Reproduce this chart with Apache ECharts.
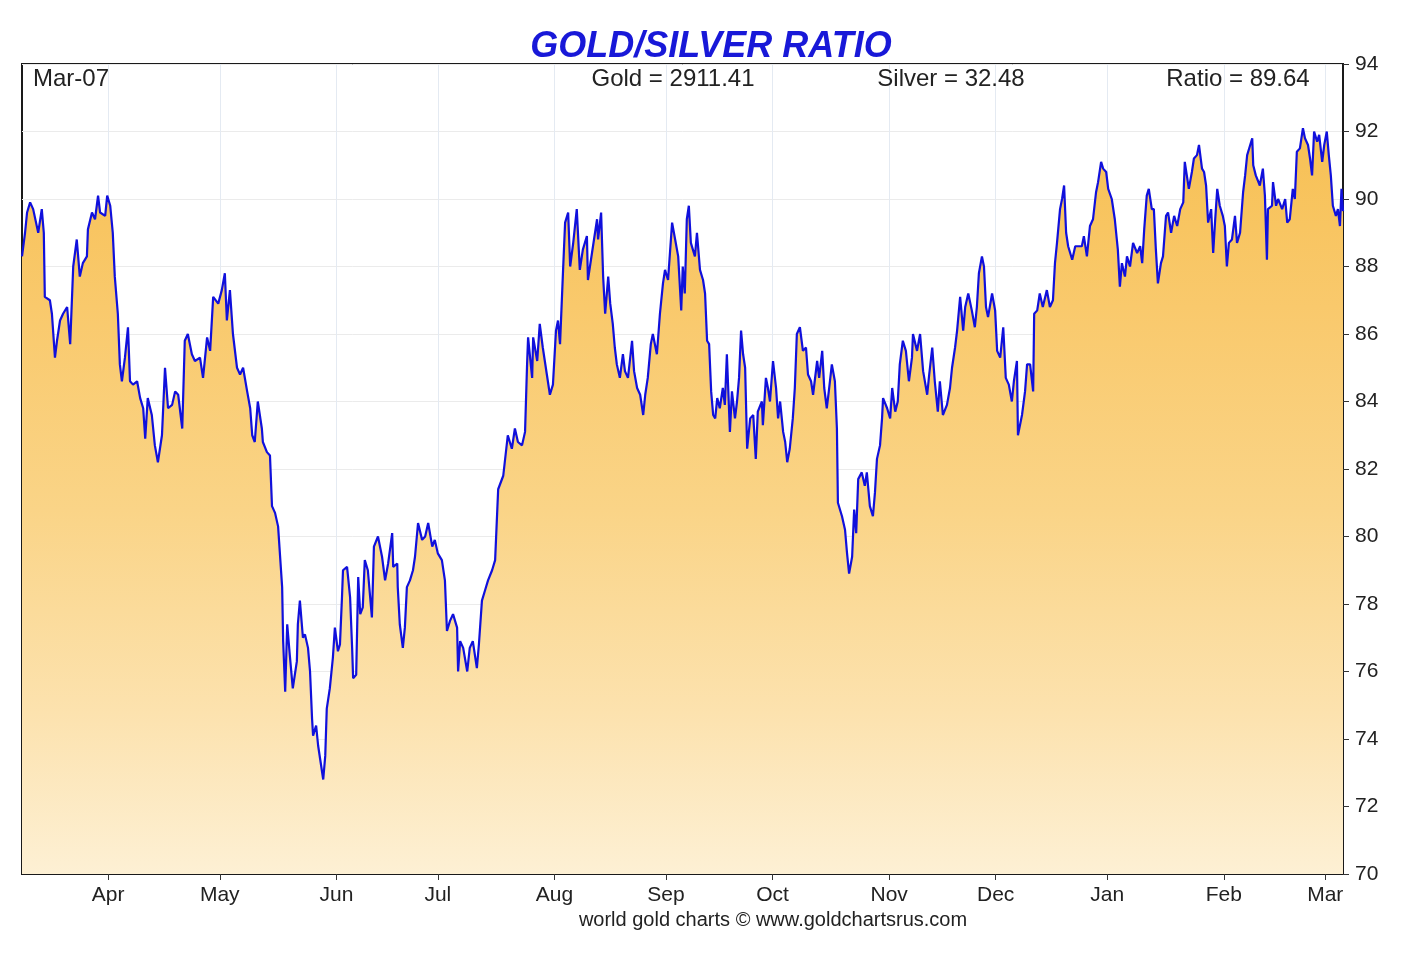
<!DOCTYPE html>
<html><head><meta charset="utf-8">
<script src="https://cdn.jsdelivr.net/npm/echarts@6/dist/echarts.min.js"></script>
<style>html,body{margin:0;padding:0;background:#fff}#chart{width:1407px;height:953px}</style>
</head><body><div id="chart"></div>
<script>
const chartTitle = 'GOLD/SILVER RATIO';
const dateLabel = 'Mar-07';
const goldText = 'Gold = 2911.41';
const silverText = 'Silver = 32.48';
const ratioText = 'Ratio = 89.64';
const footerText = 'world gold charts \u00a9 www.goldchartsrus.com';

// x axis: trading (week) days since Mar-07-2024
const monthLabels = ['Apr','May','Jun','Jul','Aug','Sep','Oct','Nov','Dec','Jan','Feb','Mar'];
const monthStartDay = [17,39,62,82,105,127,148,171,192,214,237,257];
const dayMax = 260.5;
const yMin = 70, yMax = 94, yStep = 2;

// [trading day, gold/silver ratio]
const ratioSeries = [[0,88.3],[0.6,89.0],[1.0,89.6],[1.6,89.9],[2.2,89.7],[3.2,89.0],[3.9,89.7],[4.3,89.0],[4.5,87.1],[5.5,87.0],[5.9,86.6],[6.5,85.3],[6.9,85.8],[7.5,86.4],[8.1,86.6],[8.9,86.8],[9.5,85.7],[10.1,88.0],[10.8,88.8],[11.4,87.7],[12.0,88.1],[12.8,88.3],[13.0,89.1],[13.8,89.6],[14.4,89.4],[15.0,90.1],[15.4,89.6],[16.4,89.5],[16.8,90.1],[17.4,89.8],[17.9,89.0],[18.3,87.7],[18.9,86.6],[19.3,85.1],[19.7,84.6],[20.3,85.3],[20.9,86.2],[21.3,84.6],[21.9,84.5],[22.7,84.6],[23.3,84.1],[23.9,83.8],[24.3,82.9],[24.8,84.1],[25.6,83.6],[26.2,82.7],[26.8,82.2],[27.6,83.0],[28.2,85.0],[28.8,83.8],[29.6,83.9],[30.2,84.3],[30.8,84.2],[31.6,83.2],[32.1,85.8],[32.7,86.0],[33.5,85.4],[34.1,85.2],[35.1,85.3],[35.7,84.7],[36.5,85.9],[37.1,85.5],[37.7,87.1],[38.7,86.9],[39.4,87.3],[40.0,87.8],[40.4,86.4],[41.0,87.3],[41.6,86.0],[42.4,85.0],[43.0,84.8],[43.6,85.0],[44.4,84.3],[45.0,83.8],[45.4,83.0],[45.9,82.8],[46.5,84.0],[47.3,83.2],[47.5,82.8],[48.3,82.5],[48.9,82.4],[49.3,80.9],[49.9,80.7],[50.5,80.3],[51.3,78.5],[51.5,76.9],[51.9,75.4],[52.3,77.4],[52.8,76.5],[53.4,75.5],[54.2,76.3],[54.4,77.4],[54.8,78.1],[55.4,77.0],[55.8,77.1],[56.4,76.7],[56.8,76.0],[57.2,74.6],[57.4,74.1],[58.0,74.4],[58.4,73.8],[58.8,73.4],[59.4,72.8],[59.8,73.5],[60.1,74.9],[60.7,75.5],[61.3,76.4],[61.7,77.3],[62.3,76.6],[62.7,76.8],[63.1,78.2],[63.3,79.0],[64.1,79.1],[64.7,78.2],[65.1,76.7],[65.3,75.8],[65.9,75.9],[66.3,78.8],[66.7,77.7],[67.2,77.9],[67.6,79.3],[68.2,79.0],[69.0,77.6],[69.4,79.7],[70.2,80.0],[71.0,79.4],[71.6,78.7],[72.2,79.2],[73.0,80.1],[73.2,79.1],[74.0,79.2],[74.1,78.5],[74.5,77.4],[75.1,76.7],[75.5,77.3],[75.9,78.5],[76.5,78.7],[77.1,79.0],[77.5,79.4],[78.1,80.4],[78.9,79.9],[79.5,80.0],[80.1,80.4],[80.9,79.7],[81.4,79.9],[82.0,79.5],[82.8,79.3],[83.4,78.7],[83.8,77.2],[84.4,77.5],[85.0,77.7],[85.8,77.3],[86.0,76.0],[86.4,76.9],[87.0,76.7],[87.8,76.0],[88.3,76.7],[88.9,76.9],[89.7,76.1],[90.1,76.8],[90.7,78.1],[91.3,78.4],[91.9,78.7],[92.7,79.0],[93.3,79.3],[93.9,81.4],[94.9,81.8],[95.8,83.0],[96.6,82.6],[97.2,83.2],[97.8,82.8],[98.6,82.7],[99.2,83.1],[99.6,85.1],[99.8,85.9],[100.6,84.7],[100.8,85.9],[101.6,85.2],[102.1,86.3],[102.7,85.6],[103.5,84.8],[104.1,84.2],[104.7,84.5],[105.3,86.1],[105.7,86.4],[106.1,85.7],[106.7,87.9],[107.1,89.3],[107.7,89.6],[108.1,88.0],[108.7,88.7],[109.4,89.7],[110.0,87.9],[110.6,88.5],[111.4,88.9],[111.6,87.6],[112.4,88.4],[113.0,89.0],[113.4,89.4],[113.6,88.8],[114.2,89.6],[114.6,87.7],[115.0,86.6],[115.6,87.7],[116.0,86.9],[116.5,86.3],[116.9,85.6],[117.3,85.1],[117.9,84.7],[118.5,85.4],[118.9,84.9],[119.5,84.7],[120.3,85.8],[120.7,84.9],[121.3,84.4],[121.9,84.2],[122.5,83.6],[122.9,84.2],[123.4,84.7],[124.0,85.7],[124.4,86.0],[125.2,85.4],[125.8,86.6],[126.4,87.5],[126.8,87.9],[127.4,87.6],[128.2,89.3],[128.8,88.8],[129.4,88.3],[130.0,86.7],[130.3,88.0],[130.7,87.2],[131.1,89.4],[131.5,89.8],[131.9,88.7],[132.7,88.3],[133.1,89.0],[133.7,87.9],[134.3,87.6],[134.7,87.2],[135.1,85.8],[135.5,85.7],[135.9,84.3],[136.3,83.6],[136.7,83.5],[137.1,84.1],[137.6,83.8],[138.2,84.4],[138.6,83.9],[139.0,85.4],[139.6,83.1],[140.0,84.3],[140.6,83.5],[141.0,84.0],[141.4,84.7],[141.8,86.1],[142.2,85.4],[142.6,85.0],[143.0,82.6],[143.6,83.5],[144.2,83.6],[144.7,82.3],[145.1,83.7],[145.9,84.0],[146.1,83.3],[146.7,84.7],[147.1,84.4],[147.5,84.0],[148.1,85.2],[148.7,84.4],[149.1,83.5],[149.5,84.0],[150.1,83.1],[150.5,82.8],[150.9,82.2],[151.4,82.6],[152.0,83.5],[152.4,84.4],[152.8,86.0],[153.4,86.2],[154.0,85.5],[154.6,85.6],[155.0,84.8],[155.6,84.6],[156.0,84.2],[156.8,85.2],[157.2,84.7],[157.8,85.5],[158.2,84.4],[158.7,83.8],[159.1,84.3],[159.7,85.1],[160.3,84.6],[160.7,83.2],[160.9,81.0],[161.7,80.6],[162.3,80.2],[162.7,79.5],[163.1,78.9],[163.7,79.4],[164.1,80.8],[164.5,80.1],[164.9,81.7],[165.6,81.9],[166.2,81.5],[166.6,81.9],[167.2,80.9],[167.8,80.6],[168.2,81.3],[168.6,82.3],[169.2,82.7],[169.6,83.5],[169.8,84.1],[170.6,83.8],[171.2,83.5],[171.6,84.4],[172.2,83.7],[172.7,84.0],[173.1,85.1],[173.7,85.8],[174.3,85.5],[174.9,84.6],[175.5,85.3],[175.7,86.0],[176.5,85.5],[177.1,86.0],[177.7,84.9],[178.5,84.2],[178.9,84.8],[179.5,85.6],[180.0,84.6],[180.6,83.7],[181.0,84.6],[181.6,83.6],[182.4,83.9],[183.0,84.4],[183.4,85.0],[184.0,85.6],[184.4,86.1],[185.0,87.1],[185.6,86.1],[186.0,86.8],[186.6,87.2],[187.3,86.7],[187.9,86.2],[188.3,86.8],[188.7,87.8],[189.3,88.3],[189.7,88.0],[190.1,86.8],[190.5,86.5],[191.3,87.2],[191.9,86.7],[192.3,85.5],[192.9,85.3],[193.5,86.2],[194.0,84.7],[194.6,84.5],[195.2,84.0],[195.6,84.6],[196.2,85.2],[196.4,83.0],[197.2,83.6],[197.8,84.3],[198.2,85.1],[198.8,85.1],[199.4,84.3],[199.6,86.6],[200.2,86.7],[200.7,87.2],[201.3,86.8],[202.1,87.3],[202.7,86.8],[203.3,87.0],[203.7,88.1],[204.1,88.7],[204.7,89.7],[205.1,90.0],[205.5,90.4],[205.9,89.0],[206.3,88.6],[207.1,88.2],[207.7,88.6],[208.2,88.6],[209.0,88.6],[209.4,88.9],[210.0,88.3],[210.6,89.2],[211.2,89.4],[211.8,90.2],[212.2,90.5],[212.8,91.1],[213.2,90.9],[213.8,90.8],[214.2,90.3],[214.9,90.0],[215.5,89.4],[215.9,88.8],[216.1,88.5],[216.5,87.4],[216.9,88.1],[217.5,87.7],[217.9,88.3],[218.5,88.0],[219.1,88.7],[219.9,88.4],[220.5,88.6],[220.9,88.1],[221.3,89.1],[221.8,90.1],[222.2,90.3],[222.8,89.7],[223.2,89.7],[223.6,88.5],[224.0,87.5],[224.6,88.1],[225.0,88.3],[225.6,89.5],[226.0,89.6],[226.6,89.0],[227.2,89.5],[227.8,89.2],[228.4,89.7],[229.0,89.9],[229.3,91.1],[229.7,90.7],[230.1,90.3],[230.7,90.8],[231.1,91.2],[231.7,91.3],[232.1,91.6],[232.7,90.9],[233.1,90.8],[233.5,90.4],[233.9,89.3],[234.5,89.7],[234.9,88.4],[235.3,89.4],[235.7,90.3],[236.2,89.8],[236.8,89.5],[237.2,89.2],[237.6,88.0],[238.0,88.7],[238.6,88.8],[239.2,89.5],[239.6,88.7],[240.2,89.0],[240.8,90.2],[241.2,90.7],[241.6,91.3],[242.2,91.6],[242.6,91.8],[242.8,91.0],[243.3,90.7],[244.1,90.4],[244.7,90.9],[245.1,90.1],[245.5,88.2],[245.7,89.7],[246.5,89.8],[246.7,90.5],[247.3,89.8],[247.7,90.0],[248.5,89.7],[249.1,90.0],[249.5,89.3],[250.0,89.4],[250.6,90.3],[251.0,90.0],[251.4,91.4],[252.0,91.5],[252.6,92.1],[253.0,91.8],[253.6,91.6],[254.0,91.2],[254.4,90.7],[254.8,92.0],[255.4,91.7],[255.8,91.9],[256.4,91.1],[256.8,91.6],[257.3,92.0],[257.7,91.3],[258.1,90.7],[258.5,89.8],[259.1,89.5],[259.5,89.7],[259.9,89.2],[260.2,90.3],[260.5,89.64]];

const FONT = '"Liberation Sans", Arial, sans-serif';
const chart = echarts.init(document.getElementById('chart'), null, {renderer: 'canvas'});
chart.setOption({
  animation: false,
  backgroundColor: '#ffffff',
  grid: {left: 22, right: 64, top: 64, bottom: 79, show: true, borderColor: '#1a1a1a', borderWidth: 2, backgroundColor: 'transparent'},
  xAxis: {
    type: 'value', min: 0, max: dayMax,
    axisLine: {show: true, onZero: false, lineStyle: {color: '#1a1a1a', width: 2}},
    axisTick: {show: true, customValues: monthStartDay, length: 6, lineStyle: {color: '#333', width: 1}},
    axisLabel: {customValues: monthStartDay, formatter: v => monthLabels[monthStartDay.indexOf(v)] || '', fontSize: 21, color: '#222', margin: 11, fontFamily: FONT},
    splitLine: {show: true, lineStyle: {color: '#e4eaf2', width: 1}}
  },
  yAxis: {
    type: 'value', position: 'right', min: yMin, max: yMax, interval: yStep,
    axisLine: {show: true, onZero: false, lineStyle: {color: '#1a1a1a', width: 2}},
    axisTick: {show: true, inside: false, length: 6, lineStyle: {color: '#333', width: 1}},
    axisLabel: {fontSize: 21, color: '#222', margin: 12, fontFamily: FONT},
    splitLine: {show: true, lineStyle: {color: '#ebebeb', width: 1}}
  },
  series: [{
    type: 'line', data: ratioSeries, showSymbol: false, symbol: 'none',
    lineStyle: {color: '#1010dc', width: 2.2},
    areaStyle: {origin: 'start', opacity: 1, color: new echarts.graphic.LinearGradient(0, 64, 0, 874, [
      {offset: 0, color: '#f6bd4c'}, {offset: 0.3, color: '#f9c96c'}, {offset: 0.55, color: '#fad487'},
      {offset: 0.8, color: '#fce2ae'}, {offset: 1, color: '#fdf0d4'}], true)}
  }],
  graphic: [
    {type: 'text', x: 711, y: 47, style: {text: chartTitle, textAlign: 'center', textVerticalAlign: 'middle', font: 'italic bold 36px ' + FONT, fill: '#1818d8'}},
    {type: 'text', x: 33, y: 79, z: 100, style: {text: dateLabel, textAlign: 'left', textVerticalAlign: 'middle', font: '24px ' + FONT, fill: '#222'}},
    {type: 'text', x: 673, y: 79, z: 100, style: {text: goldText, textAlign: 'center', textVerticalAlign: 'middle', font: '24px ' + FONT, fill: '#222'}},
    {type: 'text', x: 951, y: 79, z: 100, style: {text: silverText, textAlign: 'center', textVerticalAlign: 'middle', font: '24px ' + FONT, fill: '#222'}},
    {type: 'text', x: 1238, y: 79, z: 100, style: {text: ratioText, textAlign: 'center', textVerticalAlign: 'middle', font: '24px ' + FONT, fill: '#222'}},
    {type: 'text', x: 773, y: 920, style: {text: footerText, textAlign: 'center', textVerticalAlign: 'middle', font: '20px ' + FONT, fill: '#222'}}
  ]
});
</script></body></html>
